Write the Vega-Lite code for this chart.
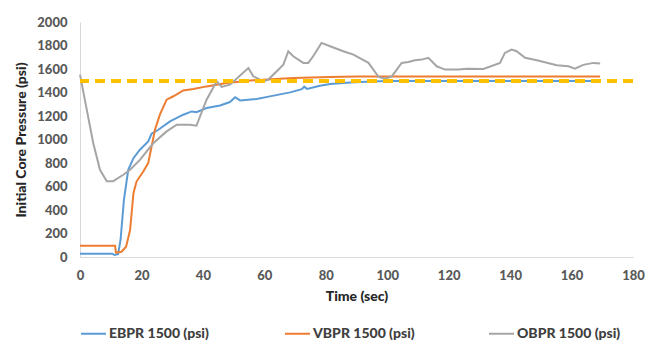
{
  "$schema": "https://vega.github.io/schema/vega-lite/v6.json",
  "autosize": "none",
  "width": 553,
  "height": 235,
  "padding": {"left": 80, "top": 22, "right": 22, "bottom": 84},
  "background": "white",
  "config": {
    "view": {"stroke": null},
    "font": "Lato",
    "axis": {
      "grid": false,
      "ticks": false,
      "domainColor": "#D9D9D9",
      "domainWidth": 1,
      "labelColor": "#595959",
      "labelFont": "Lato",
      "labelFontWeight": 900,
      "labelFontSize": 13,
      "labelFlush": false,
      "labelOverlap": false,
      "titleColor": "#262626",
      "titleFont": "Lato",
      "titleFontWeight": 900,
      "titleFontSize": 14
    },
    "legend": {
      "labelFont": "Lato",
      "labelFontWeight": 900,
      "labelFontSize": 14,
      "labelColor": "#404040"
    }
  },
  "data": {
    "values": [
      {"s": "EBPR 1500 (psi)", "t": 0, "v": 28},
      {"s": "EBPR 1500 (psi)", "t": 10.5, "v": 28},
      {"s": "EBPR 1500 (psi)", "t": 11.2, "v": 17},
      {"s": "EBPR 1500 (psi)", "t": 12.4, "v": 24},
      {"s": "EBPR 1500 (psi)", "t": 13.2, "v": 145},
      {"s": "EBPR 1500 (psi)", "t": 14.3, "v": 486},
      {"s": "EBPR 1500 (psi)", "t": 15.7, "v": 742},
      {"s": "EBPR 1500 (psi)", "t": 17.4, "v": 841},
      {"s": "EBPR 1500 (psi)", "t": 19.5, "v": 913},
      {"s": "EBPR 1500 (psi)", "t": 22.2, "v": 983},
      {"s": "EBPR 1500 (psi)", "t": 23.3, "v": 1050},
      {"s": "EBPR 1500 (psi)", "t": 25.5, "v": 1083},
      {"s": "EBPR 1500 (psi)", "t": 29.3, "v": 1154},
      {"s": "EBPR 1500 (psi)", "t": 33.6, "v": 1211},
      {"s": "EBPR 1500 (psi)", "t": 36.4, "v": 1239},
      {"s": "EBPR 1500 (psi)", "t": 37.9, "v": 1232},
      {"s": "EBPR 1500 (psi)", "t": 41.2, "v": 1268},
      {"s": "EBPR 1500 (psi)", "t": 45.6, "v": 1290},
      {"s": "EBPR 1500 (psi)", "t": 48.8, "v": 1319},
      {"s": "EBPR 1500 (psi)", "t": 50.5, "v": 1360},
      {"s": "EBPR 1500 (psi)", "t": 52.1, "v": 1333},
      {"s": "EBPR 1500 (psi)", "t": 57.5, "v": 1345},
      {"s": "EBPR 1500 (psi)", "t": 61.8, "v": 1367},
      {"s": "EBPR 1500 (psi)", "t": 68.4, "v": 1401},
      {"s": "EBPR 1500 (psi)", "t": 72.2, "v": 1428},
      {"s": "EBPR 1500 (psi)", "t": 73, "v": 1450},
      {"s": "EBPR 1500 (psi)", "t": 73.9, "v": 1430},
      {"s": "EBPR 1500 (psi)", "t": 78.1, "v": 1458},
      {"s": "EBPR 1500 (psi)", "t": 81.4, "v": 1473},
      {"s": "EBPR 1500 (psi)", "t": 88, "v": 1485},
      {"s": "EBPR 1500 (psi)", "t": 95, "v": 1493},
      {"s": "EBPR 1500 (psi)", "t": 100, "v": 1497},
      {"s": "EBPR 1500 (psi)", "t": 169.3, "v": 1497},
      {"s": "VBPR 1500 (psi)", "t": 0, "v": 95},
      {"s": "VBPR 1500 (psi)", "t": 11.4, "v": 95},
      {"s": "VBPR 1500 (psi)", "t": 11.7, "v": 37},
      {"s": "VBPR 1500 (psi)", "t": 13.5, "v": 45},
      {"s": "VBPR 1500 (psi)", "t": 15, "v": 88},
      {"s": "VBPR 1500 (psi)", "t": 16.3, "v": 230},
      {"s": "VBPR 1500 (psi)", "t": 17.4, "v": 543},
      {"s": "VBPR 1500 (psi)", "t": 18.4, "v": 642},
      {"s": "VBPR 1500 (psi)", "t": 20.6, "v": 728},
      {"s": "VBPR 1500 (psi)", "t": 22.2, "v": 799},
      {"s": "VBPR 1500 (psi)", "t": 23.3, "v": 941},
      {"s": "VBPR 1500 (psi)", "t": 24.4, "v": 1083},
      {"s": "VBPR 1500 (psi)", "t": 26, "v": 1211},
      {"s": "VBPR 1500 (psi)", "t": 28.2, "v": 1339},
      {"s": "VBPR 1500 (psi)", "t": 30.4, "v": 1368},
      {"s": "VBPR 1500 (psi)", "t": 33.6, "v": 1418},
      {"s": "VBPR 1500 (psi)", "t": 36.9, "v": 1430},
      {"s": "VBPR 1500 (psi)", "t": 41.2, "v": 1452},
      {"s": "VBPR 1500 (psi)", "t": 47.7, "v": 1481},
      {"s": "VBPR 1500 (psi)", "t": 56.4, "v": 1504},
      {"s": "VBPR 1500 (psi)", "t": 69.4, "v": 1524},
      {"s": "VBPR 1500 (psi)", "t": 81.4, "v": 1532},
      {"s": "VBPR 1500 (psi)", "t": 90, "v": 1536},
      {"s": "VBPR 1500 (psi)", "t": 169.3, "v": 1536},
      {"s": "OBPR 1500 (psi)", "t": 0, "v": 1552},
      {"s": "OBPR 1500 (psi)", "t": 2.2, "v": 1254},
      {"s": "OBPR 1500 (psi)", "t": 4.3, "v": 970},
      {"s": "OBPR 1500 (psi)", "t": 6.5, "v": 742},
      {"s": "OBPR 1500 (psi)", "t": 8.7, "v": 645},
      {"s": "OBPR 1500 (psi)", "t": 10.8, "v": 645},
      {"s": "OBPR 1500 (psi)", "t": 14.1, "v": 700},
      {"s": "OBPR 1500 (psi)", "t": 16.3, "v": 742},
      {"s": "OBPR 1500 (psi)", "t": 19.5, "v": 827},
      {"s": "OBPR 1500 (psi)", "t": 23.9, "v": 970},
      {"s": "OBPR 1500 (psi)", "t": 28.2, "v": 1069},
      {"s": "OBPR 1500 (psi)", "t": 31.5, "v": 1126},
      {"s": "OBPR 1500 (psi)", "t": 35.8, "v": 1126},
      {"s": "OBPR 1500 (psi)", "t": 37.9, "v": 1117},
      {"s": "OBPR 1500 (psi)", "t": 41.2, "v": 1339},
      {"s": "OBPR 1500 (psi)", "t": 44.5, "v": 1495},
      {"s": "OBPR 1500 (psi)", "t": 46.1, "v": 1447},
      {"s": "OBPR 1500 (psi)", "t": 48.8, "v": 1467},
      {"s": "OBPR 1500 (psi)", "t": 54.8, "v": 1609},
      {"s": "OBPR 1500 (psi)", "t": 56.4, "v": 1538},
      {"s": "OBPR 1500 (psi)", "t": 59.7, "v": 1495},
      {"s": "OBPR 1500 (psi)", "t": 61.3, "v": 1510},
      {"s": "OBPR 1500 (psi)", "t": 66.2, "v": 1637},
      {"s": "OBPR 1500 (psi)", "t": 67.8, "v": 1751},
      {"s": "OBPR 1500 (psi)", "t": 69.4, "v": 1708},
      {"s": "OBPR 1500 (psi)", "t": 72.7, "v": 1652},
      {"s": "OBPR 1500 (psi)", "t": 74.3, "v": 1652},
      {"s": "OBPR 1500 (psi)", "t": 75.9, "v": 1708},
      {"s": "OBPR 1500 (psi)", "t": 78.6, "v": 1822},
      {"s": "OBPR 1500 (psi)", "t": 81.4, "v": 1794},
      {"s": "OBPR 1500 (psi)", "t": 85.7, "v": 1751},
      {"s": "OBPR 1500 (psi)", "t": 89, "v": 1723},
      {"s": "OBPR 1500 (psi)", "t": 93.9, "v": 1652},
      {"s": "OBPR 1500 (psi)", "t": 97.2, "v": 1532},
      {"s": "OBPR 1500 (psi)", "t": 99.3, "v": 1518},
      {"s": "OBPR 1500 (psi)", "t": 101.5, "v": 1538},
      {"s": "OBPR 1500 (psi)", "t": 104.7, "v": 1652},
      {"s": "OBPR 1500 (psi)", "t": 106.9, "v": 1660},
      {"s": "OBPR 1500 (psi)", "t": 109, "v": 1675},
      {"s": "OBPR 1500 (psi)", "t": 111.2, "v": 1680},
      {"s": "OBPR 1500 (psi)", "t": 113.4, "v": 1695},
      {"s": "OBPR 1500 (psi)", "t": 116.1, "v": 1623},
      {"s": "OBPR 1500 (psi)", "t": 118.8, "v": 1595},
      {"s": "OBPR 1500 (psi)", "t": 123.2, "v": 1595},
      {"s": "OBPR 1500 (psi)", "t": 125.9, "v": 1603},
      {"s": "OBPR 1500 (psi)", "t": 131.3, "v": 1600},
      {"s": "OBPR 1500 (psi)", "t": 136.7, "v": 1652},
      {"s": "OBPR 1500 (psi)", "t": 138.3, "v": 1737},
      {"s": "OBPR 1500 (psi)", "t": 140.5, "v": 1766},
      {"s": "OBPR 1500 (psi)", "t": 142.1, "v": 1751},
      {"s": "OBPR 1500 (psi)", "t": 144.9, "v": 1695},
      {"s": "OBPR 1500 (psi)", "t": 148.7, "v": 1675},
      {"s": "OBPR 1500 (psi)", "t": 155.2, "v": 1632},
      {"s": "OBPR 1500 (psi)", "t": 159, "v": 1623},
      {"s": "OBPR 1500 (psi)", "t": 161.1, "v": 1603},
      {"s": "OBPR 1500 (psi)", "t": 163.8, "v": 1635},
      {"s": "OBPR 1500 (psi)", "t": 167.1, "v": 1652},
      {"s": "OBPR 1500 (psi)", "t": 169.3, "v": 1646}
    ]
  },
  "layer": [
    {
      "mark": {"type": "line", "strokeWidth": 2, "interpolate": "linear"},
      "encoding": {
        "x": {
          "field": "t", "type": "quantitative", "title": "Time (sec)",
          "scale": {"domain": [0, 180], "nice": false, "zero": true},
          "axis": {"values": [0, 20, 40, 60, 80, 100, 120, 140, 160, 180], "tickCount": 20, "format": "d", "labelOverlap": false, "labelPadding": 12, "titlePadding": 7}
        },
        "y": {
          "field": "v", "type": "quantitative", "title": "Initial Core Pressure (psi)",
          "scale": {"domain": [0, 2000], "nice": false},
          "axis": {"values": [0, 200, 400, 600, 800, 1000, 1200, 1400, 1600, 1800, 2000], "tickCount": 20, "format": "d", "labelOverlap": false, "labelPadding": 13, "titlePadding": 8}
        },
        "color": {
          "field": "s", "type": "nominal",
          "scale": {
            "domain": ["EBPR 1500 (psi)", "VBPR 1500 (psi)", "OBPR 1500 (psi)"],
            "range": ["#5B9BD5", "#ED7D31", "#A5A5A5"]
          },
          "legend": {
            "title": null,
            "orient": "none",
            "direction": "horizontal",
            "legendX": 0,
            "legendY": 298,
            "symbolType": "stroke",
            "symbolSize": 625,
            "symbolStrokeWidth": 2,
            "labelOffset": 2,
            "columnPadding": 68,
            "gridAlign": "all"
          }
        }
      }
    },
    {
      "mark": {"type": "rule", "color": "#FFC000", "strokeWidth": 3, "strokeDash": [10, 6]},
      "encoding": {
        "y": {
          "datum": 1500, "type": "quantitative", "title": "Initial Core Pressure (psi)",
          "axis": {"values": [0, 200, 400, 600, 800, 1000, 1200, 1400, 1600, 1800, 2000], "tickCount": 20, "format": "d", "labelOverlap": false, "labelPadding": 13, "titlePadding": 8}
        }
      }
    }
  ]
}
